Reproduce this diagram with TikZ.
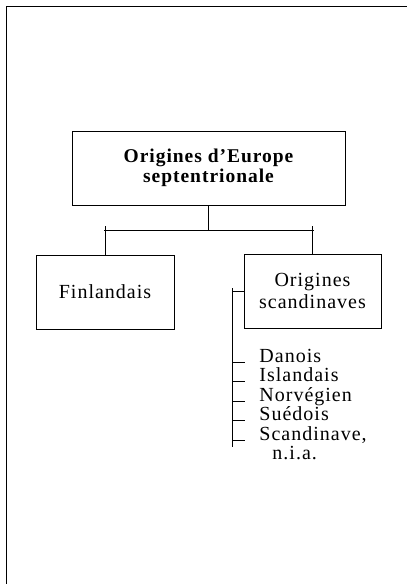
\documentclass[tikz,border=0pt]{standalone}
\usepackage{fontspec}
\setmainfont{Liberation Serif}[LetterSpace=5]
\begin{document}
\begin{tikzpicture}[x=1pt,y=-1pt,
  every path/.style={line width=0.9pt},
  box/.style={draw, inner sep=0pt, align=center, minimum height=74pt},
  item/.style={anchor=base west, inner sep=0pt},
  txt/.style={font=\fontsize{20}{21}\selectfont},
]
\useasboundingbox (0,0) rectangle (407,584);
% frame
\coordinate (fr1) at (407,6);
\coordinate (fr2) at (6,6);
\coordinate (fr3) at (6,584);
\draw (fr1) -- (fr2) -- (fr3);

% boxes
\node[box, minimum width=273pt, font=\fontsize{19.5}{20}\selectfont\bfseries] (top) at (208.5,168) {Origines d’Europe\\septentrionale};
\node[box, minimum width=138pt, txt] (fin) at (105,292) {Finlandais};
\node[box, minimum width=137pt, font=\fontsize{20}{22}\selectfont] (scand) at (312.5,291) {Origines\\scandinaves};

% tree connectors
\coordinate (hl) at (104,230);
\coordinate (hr) at (314,230);
\coordinate (tk) at (0,226);
\draw (top.south) -- (top.south |- hl);
\draw (hl) -- (hr);
\draw (fin.north) -- (fin.north |- tk);
\draw (scand.north) -- (scand.north |- tk);

% bracket
\coordinate (btop) at (232,288);
\coordinate (bbot) at (232,447);
\coordinate (bj) at (232,291);
\draw (btop) -- (bbot);
\draw (bj) -- (scand.west);

% list items
\node[item, txt] (l1) at (259,362) {Danois};
\node[item, txt] (l2) at (259,381.5) {Islandais};
\node[item, txt] (l3) at (259,401) {Norvégien};
\node[item, txt] (l4) at (259,420.5) {Suédois};
\node[item, txt] (l5) at (259,440) {Scandinave,};
\node[item, txt] (l6) at (272,459.5) {n.i.a.};

\coordinate (t1) at (232,362);
\coordinate (t2) at (232,381.5);
\coordinate (t3) at (232,401);
\coordinate (t4) at (232,420.5);
\coordinate (t5) at (232,440);
\foreach \t in {t1,t2,t3,t4,t5} \draw (\t) -- ++(13,0);
\end{tikzpicture}
\end{document}
